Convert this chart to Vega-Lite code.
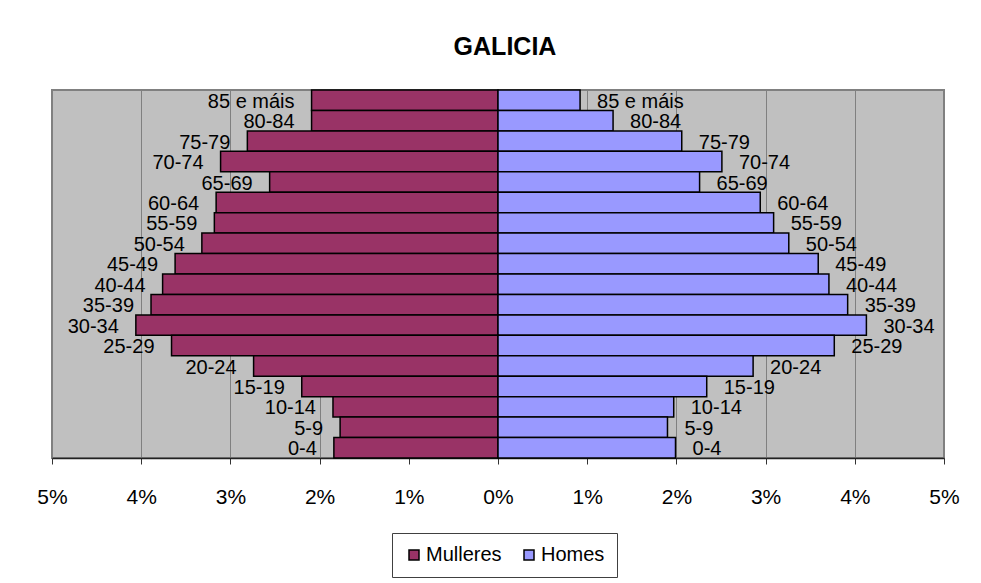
{
  "$schema": "https://vega.github.io/schema/vega-lite/v6.json",
  "autosize": {"type": "none"},
  "padding": {"left": 52, "top": 90, "right": 37, "bottom": 125},
  "width": 892,
  "height": 368,
  "background": "white",
  "title": {"text": "GALICIA", "font": "Liberation Sans", "fontSize": 25, "fontWeight": "bold", "color": "black", "anchor": "middle", "offset": 29, "dx": 7},
  "data": {"values": [
    {"age": "85 e máis", "sex": "Mulleres", "value": -2.09}, {"age": "85 e máis", "sex": "Homes", "value": 0.92},
    {"age": "80-84", "sex": "Mulleres", "value": -2.09}, {"age": "80-84", "sex": "Homes", "value": 1.29},
    {"age": "75-79", "sex": "Mulleres", "value": -2.81}, {"age": "75-79", "sex": "Homes", "value": 2.06},
    {"age": "70-74", "sex": "Mulleres", "value": -3.11}, {"age": "70-74", "sex": "Homes", "value": 2.51},
    {"age": "65-69", "sex": "Mulleres", "value": -2.56}, {"age": "65-69", "sex": "Homes", "value": 2.26},
    {"age": "60-64", "sex": "Mulleres", "value": -3.16}, {"age": "60-64", "sex": "Homes", "value": 2.94},
    {"age": "55-59", "sex": "Mulleres", "value": -3.18}, {"age": "55-59", "sex": "Homes", "value": 3.09},
    {"age": "50-54", "sex": "Mulleres", "value": -3.32}, {"age": "50-54", "sex": "Homes", "value": 3.26},
    {"age": "45-49", "sex": "Mulleres", "value": -3.62}, {"age": "45-49", "sex": "Homes", "value": 3.59},
    {"age": "40-44", "sex": "Mulleres", "value": -3.76}, {"age": "40-44", "sex": "Homes", "value": 3.71},
    {"age": "35-39", "sex": "Mulleres", "value": -3.89}, {"age": "35-39", "sex": "Homes", "value": 3.92},
    {"age": "30-34", "sex": "Mulleres", "value": -4.06}, {"age": "30-34", "sex": "Homes", "value": 4.13},
    {"age": "25-29", "sex": "Mulleres", "value": -3.66}, {"age": "25-29", "sex": "Homes", "value": 3.77},
    {"age": "20-24", "sex": "Mulleres", "value": -2.74}, {"age": "20-24", "sex": "Homes", "value": 2.86},
    {"age": "15-19", "sex": "Mulleres", "value": -2.20}, {"age": "15-19", "sex": "Homes", "value": 2.34},
    {"age": "10-14", "sex": "Mulleres", "value": -1.85}, {"age": "10-14", "sex": "Homes", "value": 1.97},
    {"age": "5-9", "sex": "Mulleres", "value": -1.77}, {"age": "5-9", "sex": "Homes", "value": 1.90},
    {"age": "0-4", "sex": "Mulleres", "value": -1.84}, {"age": "0-4", "sex": "Homes", "value": 1.99}
  ]},
  "encoding": {
    "y": {
      "field": "age", "type": "nominal",
      "sort": ["85 e máis", "80-84", "75-79", "70-74", "65-69", "60-64", "55-59", "50-54", "45-49", "40-44", "35-39", "30-34", "25-29", "20-24", "15-19", "10-14", "5-9", "0-4"],
      "scale": {"paddingInner": 0, "paddingOuter": 0},
      "axis": null
    },
    "x": {
      "field": "value", "type": "quantitative",
      "scale": {"domain": [-5, 5], "nice": false},
      "axis": {
        "values": [-5, -4, -3, -2, -1, 0, 1, 2, 3, 4, 5],
        "labelExpr": "abs(datum.value) + '%'",
        "labelFont": "Liberation Sans", "labelFontSize": 21, "labelColor": "black",
        "labelPadding": 22, "labelFlush": false, "labelOverlap": false,
        "tickSize": 6, "tickColor": "#333333", "tickWidth": 1,
        "domainColor": "#222222", "domainWidth": 1.5,
        "grid": true, "gridColor": "#808080", "gridWidth": 1,
        "title": null
      }
    }
  },
  "layer": [
    {
      "mark": {"type": "bar", "stroke": "black", "strokeWidth": 1.5},
      "encoding": {
        "color": {
          "field": "sex", "type": "nominal",
          "scale": {"domain": ["Mulleres", "Homes"], "range": ["#993366", "#9999FF"]},
          "legend": {
            "orient": "none", "legendX": 340, "legendY": 443, "direction": "horizontal", "title": null,
            "symbolType": "square", "symbolSize": 100, "symbolStrokeColor": "black", "symbolStrokeWidth": 1.5, "symbolOpacity": 1,
            "labelFont": "Liberation Sans", "labelFontSize": 20, "labelColor": "black", "labelOffset": 2,
            "columnPadding": 17, "padding": 12, "strokeColor": "#404040", "fillColor": "white"
          }
        }
      }
    },
    {
      "transform": [{"filter": "datum.sex == 'Mulleres'"}],
      "mark": {"type": "text", "align": "right", "baseline": "middle", "dx": -17, "dy": 1.5, "font": "Liberation Sans", "fontSize": 20, "color": "black"},
      "encoding": {"text": {"field": "age"}}
    },
    {
      "transform": [{"filter": "datum.sex == 'Homes'"}],
      "mark": {"type": "text", "align": "left", "baseline": "middle", "dx": 17, "dy": 1.5, "font": "Liberation Sans", "fontSize": 20, "color": "black"},
      "encoding": {"text": {"field": "age"}}
    }
  ],
  "config": {
    "view": {"fill": "#C0C0C0", "stroke": "#808080", "strokeWidth": 2},
    "font": "Liberation Sans"
  }
}
